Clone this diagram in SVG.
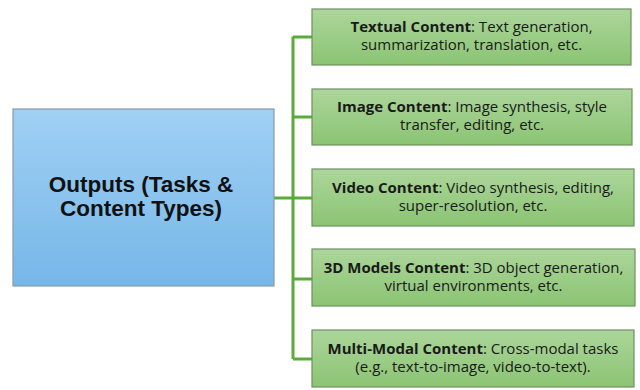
<svg xmlns="http://www.w3.org/2000/svg" width="640" height="390" viewBox="0 0 640 390">
  <defs>
    <linearGradient id="blueFill" x1="0" y1="0" x2="0" y2="1">
      <stop offset="0" stop-color="#a0d0f4"/>
      <stop offset="1" stop-color="#76b7e8"/>
    </linearGradient>
    <linearGradient id="greenFill" x1="0" y1="0" x2="0" y2="1">
      <stop offset="0" stop-color="#acd69b"/>
      <stop offset="1" stop-color="#8bc473"/>
    </linearGradient>
  </defs>
  <style>
    .root { fill: url(#blueFill); stroke: #8a9aa8; stroke-width: 1.2; }
    .leaf { fill: url(#greenFill); stroke: #6f8f60; stroke-width: 1.2; }
    .link { stroke: #5aac3a; stroke-width: 3; fill: none; }
    .title { font-family: "Liberation Sans", Arial, sans-serif; font-weight: bold; font-size: 22.5px; fill: #111; text-anchor: middle; }
    .label { font-family: "Open Sans", "Liberation Sans", Arial, sans-serif; font-size: 15px; fill: #1a1a1a; text-anchor: middle; }
    .label .b { font-weight: bold; }
  </style>

  <g id="connectors">
    <path class="link" d="M274 198 H293"/>
    <path class="link" d="M293 36.5 V359"/>
    <path class="link" d="M293 37 H312"/>
    <path class="link" d="M293 117 H312"/>
    <path class="link" d="M293 198 H312"/>
    <path class="link" d="M293 279 H312"/>
    <path class="link" d="M293 359 H312"/>
  </g>

  <g id="outputs">
    <rect class="root" x="13" y="109" width="261" height="177"/>
    <text class="title" x="141" y="192">Outputs (Tasks &amp;</text>
    <text class="title" x="141" y="216">Content Types)</text>
  </g>

  <g id="textual">
    <rect class="leaf" x="312" y="9" width="319" height="56"/>
    <text class="label" x="471.5" y="32"><tspan class="b">Textual Content</tspan>: Text generation,</text>
    <text class="label" x="471.5" y="50">summarization, translation, etc.</text>
  </g>

  <g id="image">
    <rect class="leaf" x="312" y="89" width="320" height="56"/>
    <text class="label" x="472" y="112"><tspan class="b">Image Content</tspan>: Image synthesis, style</text>
    <text class="label" x="472" y="130">transfer, editing, etc.</text>
  </g>

  <g id="video">
    <rect class="leaf" x="312" y="169" width="322" height="57"/>
    <text class="label" x="473" y="193"><tspan class="b">Video Content</tspan>: Video synthesis, editing,</text>
    <text class="label" x="473" y="211">super-resolution, etc.</text>
  </g>

  <g id="models3d">
    <rect class="leaf" x="312" y="249" width="323" height="57"/>
    <text class="label" x="473.5" y="273"><tspan class="b">3D Models Content</tspan>: 3D object generation,</text>
    <text class="label" x="473.5" y="291">virtual environments, etc.</text>
  </g>

  <g id="multimodal">
    <rect class="leaf" x="312" y="330" width="322" height="57"/>
    <text class="label" x="473" y="354"><tspan class="b">Multi-Modal Content</tspan>: Cross-modal tasks</text>
    <text class="label" x="473" y="372">(e.g., text-to-image, video-to-text).</text>
  </g>
</svg>
